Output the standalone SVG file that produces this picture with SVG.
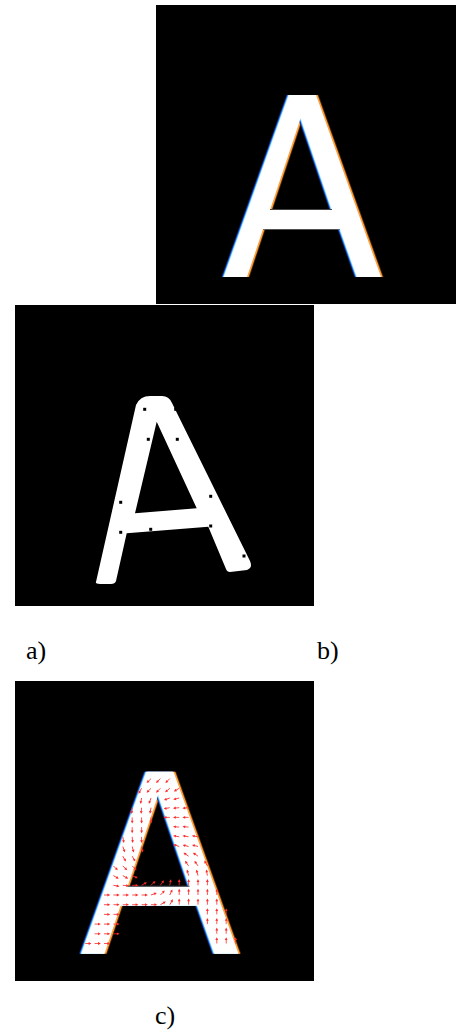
<svg xmlns="http://www.w3.org/2000/svg" xmlns:xlink="http://www.w3.org/1999/xlink" width="456" height="1032" viewBox="0 0 456 1032">
<style>
.lbl{font-family:"Liberation Serif","Times New Roman",serif;font-size:26px;fill:#000}
.bg{fill:#000}
.dot{fill:#000}
</style>
<defs>
<path id="glyph" fill-rule="evenodd" d="M224,277 L289,95 L316,95 L381,277 L357,277 L340,229 L263,229 L247,277 Z M300.7,118 L332,210 L270,210 Z"/>
<g id="v"><path d="M0,0H4" stroke="#ff2a2a" stroke-width="0.8" fill="none"/><path d="M3.4,-1.4L6.2,0L3.4,1.4Z" fill="#ff2a2a"/></g>
<g id="fringeA">
<use href="#glyph" fill="#5a3000" x="2.6"/>
<use href="#glyph" fill="#ffa040" x="1.7"/>
<use href="#glyph" fill="#0a2a80" x="-2.6"/>
<use href="#glyph" fill="#3d8bff" x="-1.7"/>
<use href="#glyph" fill="#aef4ff" x="-0.8"/>
<use href="#glyph" fill="#fff"/>
<line x1="270" y1="209.5" x2="332" y2="209.5" stroke="#444" stroke-width="1"/>
</g>
</defs>
<rect width="456" height="1032" fill="#fff"/>

<g id="img-top">
<rect class="bg" x="156" y="5" width="300" height="299"/>
<use href="#fringeA"/>
<line x1="263" y1="229.5" x2="340" y2="229.5" stroke="#666" stroke-width="0.8"/>
</g>

<g id="img-mid">
<rect class="bg" x="15" y="305" width="299" height="301"/>
<path fill="#fff" fill-rule="evenodd" d="M96,582 L136,405 Q140,396 150,396 L162,396 Q169,396 172,403 L250,561 Q253,568 247,570 L230,572 Q227,572 226,569 L208.3,526.7 L126.7,533.3 L116,581 Q115,584 111,584 L100,584 Q95,584 96,582 Z M156.7,421.7 L135,513.3 L196.7,508.3 Z"/>
<g>
<rect class="dot" x="143.2" y="407.8" width="3" height="3"/>
<rect class="dot" x="174.2" y="407.8" width="3" height="3"/>
<rect class="dot" x="146.8" y="437.8" width="3" height="3"/>
<rect class="dot" x="175.8" y="437.8" width="3" height="3"/>
<rect class="dot" x="119.2" y="500.8" width="3" height="3"/>
<rect class="dot" x="209.2" y="494.8" width="3" height="3"/>
<rect class="dot" x="119.2" y="530.8" width="3" height="3"/>
<rect class="dot" x="149.2" y="527.8" width="3" height="3"/>
<rect class="dot" x="209.2" y="524.5" width="3" height="3"/>
<rect class="dot" x="242.5" y="554.5" width="3" height="3"/>
</g>
</g>

<g id="img-bottom">
<rect class="bg" x="15" y="681" width="299" height="300"/>
<use href="#fringeA" transform="translate(-142.5,676.7)"/>
<g id="field">
<use href="#v" transform="translate(151,778.6) rotate(135)"/>
<use href="#v" transform="translate(160.4,778.6) rotate(135)"/>
<use href="#v" transform="translate(169.8,778.6) rotate(135)"/>
<use href="#v" transform="translate(141.6,788.3) rotate(120)"/>
<use href="#v" transform="translate(151,788.3) rotate(135)"/>
<use href="#v" transform="translate(160.4,788.3) rotate(135)"/>
<use href="#v" transform="translate(169.8,788.3) rotate(140)"/>
<use href="#v" transform="translate(179.2,788.3) rotate(150)"/>
<use href="#v" transform="translate(141.6,798) rotate(100)"/>
<use href="#v" transform="translate(151,798) rotate(110)"/>
<use href="#v" transform="translate(169.8,798) rotate(160)"/>
<use href="#v" transform="translate(179.2,798) rotate(165)"/>
<use href="#v" transform="translate(132.2,807.7) rotate(95)"/>
<use href="#v" transform="translate(141.6,807.7) rotate(95)"/>
<use href="#v" transform="translate(151,807.7) rotate(100)"/>
<use href="#v" transform="translate(169.8,807.7) rotate(170)"/>
<use href="#v" transform="translate(179.2,807.7) rotate(175)"/>
<use href="#v" transform="translate(188.6,807.7) rotate(175)"/>
<use href="#v" transform="translate(132.2,817.4) rotate(90)"/>
<use href="#v" transform="translate(141.6,817.4) rotate(90)"/>
<use href="#v" transform="translate(151,817.4) rotate(90)"/>
<use href="#v" transform="translate(169.8,817.4) rotate(180)"/>
<use href="#v" transform="translate(179.2,817.4) rotate(180)"/>
<use href="#v" transform="translate(188.6,817.4) rotate(180)"/>
<use href="#v" transform="translate(132.2,827.1) rotate(90)"/>
<use href="#v" transform="translate(141.6,827.1) rotate(90)"/>
<use href="#v" transform="translate(179.2,827.1) rotate(185)"/>
<use href="#v" transform="translate(188.6,827.1) rotate(185)"/>
<use href="#v" transform="translate(122.8,836.8) rotate(80)"/>
<use href="#v" transform="translate(132.2,836.8) rotate(85)"/>
<use href="#v" transform="translate(141.6,836.8) rotate(90)"/>
<use href="#v" transform="translate(179.2,836.8) rotate(190)"/>
<use href="#v" transform="translate(188.6,836.8) rotate(190)"/>
<use href="#v" transform="translate(198,836.8) rotate(190)"/>
<use href="#v" transform="translate(122.8,846.5) rotate(70)"/>
<use href="#v" transform="translate(132.2,846.5) rotate(75)"/>
<use href="#v" transform="translate(141.6,846.5) rotate(80)"/>
<use href="#v" transform="translate(179.2,846.5) rotate(200)"/>
<use href="#v" transform="translate(188.6,846.5) rotate(195)"/>
<use href="#v" transform="translate(198,846.5) rotate(195)"/>
<use href="#v" transform="translate(122.8,856.2) rotate(60)"/>
<use href="#v" transform="translate(132.2,856.2) rotate(60)"/>
<use href="#v" transform="translate(188.6,856.2) rotate(215)"/>
<use href="#v" transform="translate(198,856.2) rotate(215)"/>
<use href="#v" transform="translate(113.4,865.9) rotate(45)"/>
<use href="#v" transform="translate(122.8,865.9) rotate(45)"/>
<use href="#v" transform="translate(132.2,865.9) rotate(45)"/>
<use href="#v" transform="translate(188.6,865.9) rotate(235)"/>
<use href="#v" transform="translate(198,865.9) rotate(235)"/>
<use href="#v" transform="translate(207.4,865.9) rotate(240)"/>
<use href="#v" transform="translate(113.4,875.6) rotate(30)"/>
<use href="#v" transform="translate(122.8,875.6) rotate(30)"/>
<use href="#v" transform="translate(132.2,875.6) rotate(25)"/>
<use href="#v" transform="translate(188.6,875.6) rotate(255)"/>
<use href="#v" transform="translate(198,875.6) rotate(255)"/>
<use href="#v" transform="translate(207.4,875.6) rotate(260)"/>
<use href="#v" transform="translate(113.4,885.3) rotate(10)"/>
<use href="#v" transform="translate(122.8,885.3) rotate(5)"/>
<use href="#v" transform="translate(132.2,885.3) rotate(0)"/>
<use href="#v" transform="translate(141.6,885.3) rotate(-30)"/>
<use href="#v" transform="translate(151,885.3) rotate(-45)"/>
<use href="#v" transform="translate(160.4,885.3) rotate(-55)"/>
<use href="#v" transform="translate(169.8,885.3) rotate(-80)"/>
<use href="#v" transform="translate(179.2,885.3) rotate(-90)"/>
<use href="#v" transform="translate(188.6,885.3) rotate(-90)"/>
<use href="#v" transform="translate(198,885.3) rotate(-90)"/>
<use href="#v" transform="translate(207.4,885.3) rotate(-90)"/>
<use href="#v" transform="translate(104,895) rotate(0)"/>
<use href="#v" transform="translate(113.4,895) rotate(0)"/>
<use href="#v" transform="translate(122.8,895) rotate(0)"/>
<use href="#v" transform="translate(132.2,895) rotate(0)"/>
<use href="#v" transform="translate(141.6,895) rotate(0)"/>
<use href="#v" transform="translate(151,895) rotate(-20)"/>
<use href="#v" transform="translate(160.4,895) rotate(-45)"/>
<use href="#v" transform="translate(169.8,895) rotate(-65)"/>
<use href="#v" transform="translate(179.2,895) rotate(-90)"/>
<use href="#v" transform="translate(188.6,895) rotate(-90)"/>
<use href="#v" transform="translate(198,895) rotate(-90)"/>
<use href="#v" transform="translate(207.4,895) rotate(-90)"/>
<use href="#v" transform="translate(216.8,895) rotate(-90)"/>
<use href="#v" transform="translate(104,904.7) rotate(0)"/>
<use href="#v" transform="translate(113.4,904.7) rotate(0)"/>
<use href="#v" transform="translate(122.8,904.7) rotate(0)"/>
<use href="#v" transform="translate(132.2,904.7) rotate(0)"/>
<use href="#v" transform="translate(141.6,904.7) rotate(0)"/>
<use href="#v" transform="translate(151,904.7) rotate(0)"/>
<use href="#v" transform="translate(160.4,904.7) rotate(-30)"/>
<use href="#v" transform="translate(169.8,904.7) rotate(-60)"/>
<use href="#v" transform="translate(179.2,904.7) rotate(-90)"/>
<use href="#v" transform="translate(188.6,904.7) rotate(-90)"/>
<use href="#v" transform="translate(198,904.7) rotate(-90)"/>
<use href="#v" transform="translate(207.4,904.7) rotate(-90)"/>
<use href="#v" transform="translate(216.8,904.7) rotate(-90)"/>
<use href="#v" transform="translate(104,914.4) rotate(0)"/>
<use href="#v" transform="translate(113.4,914.4) rotate(0)"/>
<use href="#v" transform="translate(207.4,914.4) rotate(-90)"/>
<use href="#v" transform="translate(216.8,914.4) rotate(-90)"/>
<use href="#v" transform="translate(226.2,914.4) rotate(-90)"/>
<use href="#v" transform="translate(94.6,924.1) rotate(0)"/>
<use href="#v" transform="translate(104,924.1) rotate(0)"/>
<use href="#v" transform="translate(113.4,924.1) rotate(0)"/>
<use href="#v" transform="translate(207.4,924.1) rotate(-90)"/>
<use href="#v" transform="translate(216.8,924.1) rotate(-90)"/>
<use href="#v" transform="translate(226.2,924.1) rotate(-90)"/>
<use href="#v" transform="translate(94.6,933.8) rotate(0)"/>
<use href="#v" transform="translate(104,933.8) rotate(0)"/>
<use href="#v" transform="translate(113.4,933.8) rotate(0)"/>
<use href="#v" transform="translate(216.8,933.8) rotate(-90)"/>
<use href="#v" transform="translate(226.2,933.8) rotate(-90)"/>
<use href="#v" transform="translate(85.2,943.5) rotate(0)"/>
<use href="#v" transform="translate(94.6,943.5) rotate(0)"/>
<use href="#v" transform="translate(104,943.5) rotate(0)"/>
<use href="#v" transform="translate(216.8,943.5) rotate(-90)"/>
<use href="#v" transform="translate(226.2,943.5) rotate(-90)"/>
<use href="#v" transform="translate(235.6,943.5) rotate(-90)"/>
</g>
</g>

<g id="labels">
<text class="lbl" x="26" y="659">a)</text>
<text class="lbl" x="317" y="659">b)</text>
<text class="lbl" x="155" y="1024">c)</text>
</g>
</svg>
